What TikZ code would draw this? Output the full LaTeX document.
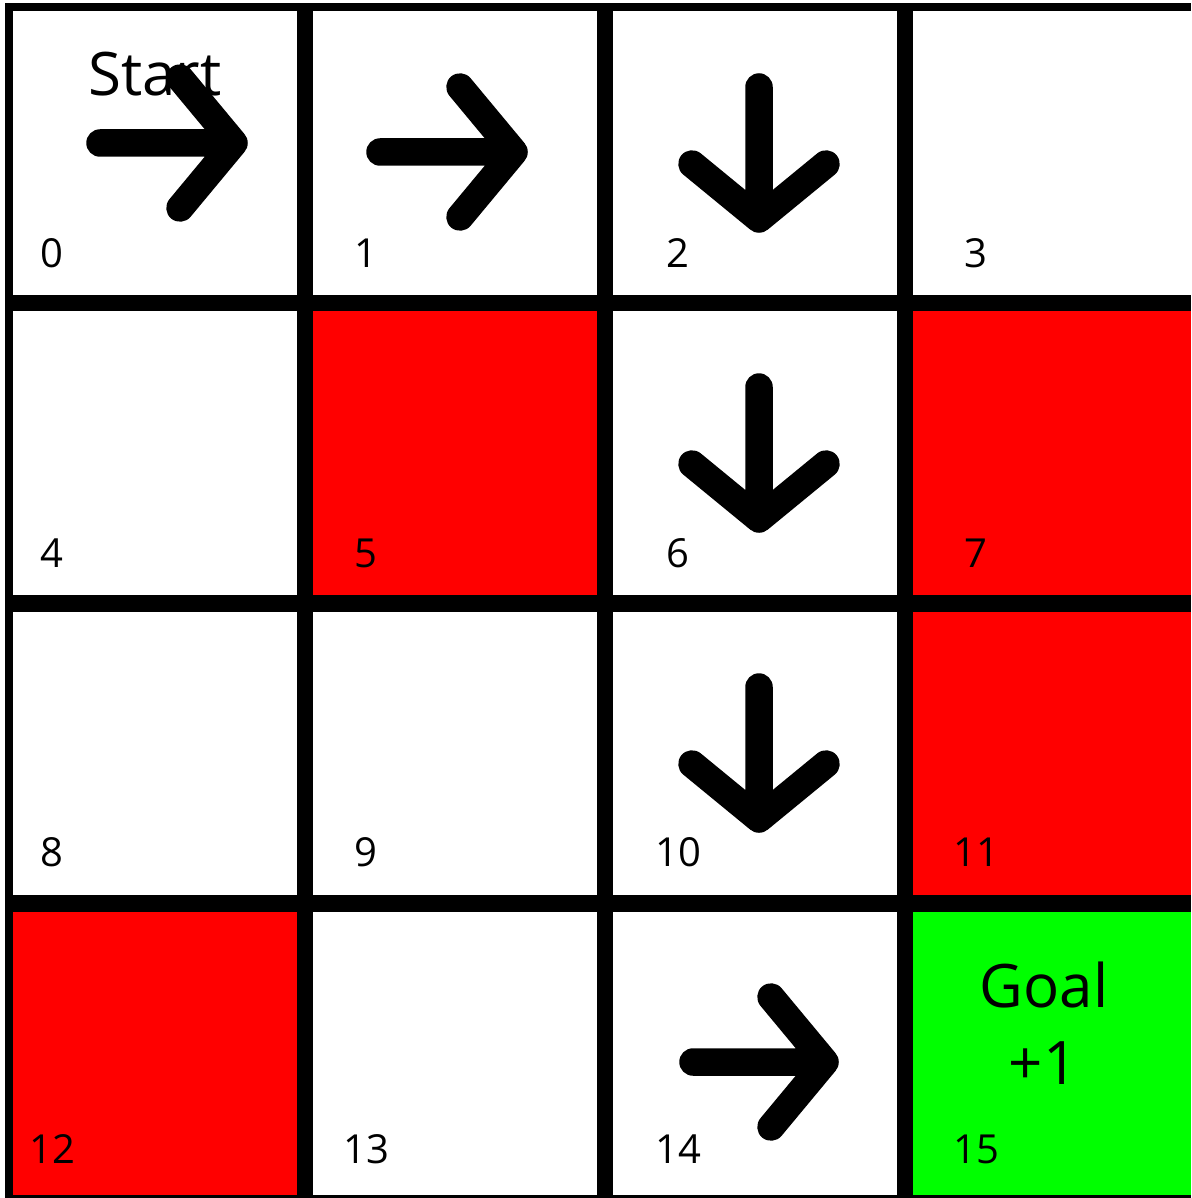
\documentclass[tikz,border=0pt]{standalone}
\usepackage{fontspec}
\setmainfont{Open Sans}
\definecolor{cellred}{RGB}{255,0,0}
\definecolor{cellgreen}{RGB}{0,255,0}
\tikzset{
  gridband/.style={fill=black, draw=none},
  movearrow/.style={draw=black, line width=13.75pt, line cap=round, line join=round},
  numlabel/.style={anchor=base, inner sep=0pt, font=\fontsize{20pt}{24pt}\selectfont},
  biglabel/.style={anchor=base, inner sep=0pt, font=\fontsize{30pt}{36pt}\selectfont},
}
\begin{document}
\begin{tikzpicture}[x=0.5pt,y=-0.5pt]
\useasboundingbox (0,0) rectangle (1191,1198);
\fill[white] (0,0) rectangle (1191,1198);
% coloured cells
\fill[cellred] (305,303) rectangle (605,603);   % 5
\fill[cellred] (905,303) rectangle (1191,603);  % 7
\fill[cellred] (905,603) rectangle (1191,903);  % 11
\fill[cellred] (5,903) rectangle (305,1198);    % 12
\fill[cellgreen] (905,903) rectangle (1191,1198); % 15
% grid bands
\fill[gridband] (5,3) rectangle (13,1198);
\fill[gridband] (5,3) rectangle (1191,11);
\fill[gridband] (5,1195) rectangle (1191,1198);
\fill[gridband] (297,3) rectangle (313,1198);
\fill[gridband] (597,3) rectangle (613,1198);
\fill[gridband] (897,3) rectangle (913,1198);
\fill[gridband] (5,295) rectangle (1191,311);
\fill[gridband] (5,595) rectangle (1191,612);
\fill[gridband] (5,895) rectangle (1191,912);
% cell numbers
\node[numlabel] (n0) at (52,267) {0};
\node[numlabel] (n1) at (366,267) {1};
\node[numlabel] (n2) at (678,267) {2};
\node[numlabel] (n3) at (976,267) {3};
\node[numlabel] (n4) at (52,567) {4};
\node[numlabel] (n5) at (366,567) {5};
\node[numlabel] (n6) at (678,567) {6};
\node[numlabel] (n7) at (976,567) {7};
\node[numlabel] (n8) at (52,866) {8};
\node[numlabel] (n9) at (366,866) {9};
\node[numlabel] (n10) at (678,866) {10};
\node[numlabel] (n11) at (976,866) {11};
\node[numlabel] (n12) at (52,1163) {12};
\node[numlabel] (n13) at (366,1163) {13};
\node[numlabel] (n14) at (678,1163) {14};
\node[numlabel] (n15) at (976,1163) {15};
% special labels
\node[biglabel] (start) at (155,96) {Start};
\node[biglabel] (goal) at (1044,1007) {Goal};
\node[biglabel] (reward) at (1043,1084) {+1};
% policy arrows
\draw[movearrow] (100,143) -- (234,143) (180,78) -- (234,143) -- (180,208);
\draw[movearrow] (380,152) -- (514,152) (460,87) -- (514,152) -- (460,217);
\draw[movearrow] (693,1062) -- (825,1062) (771,997) -- (825,1062) -- (771,1127);
\draw[movearrow] (759,87) -- (759,219) (692,164) -- (759,219) -- (826,164);
\draw[movearrow] (759,387) -- (759,519) (692,464) -- (759,519) -- (826,464);
\draw[movearrow] (759,687) -- (759,819) (692,764) -- (759,819) -- (826,764);
\end{tikzpicture}
\end{document}
